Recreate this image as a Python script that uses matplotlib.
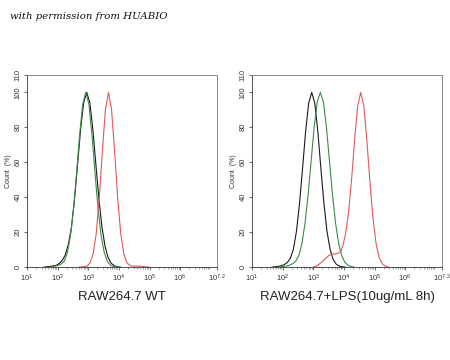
import numpy as np
import matplotlib
matplotlib.use("Agg")
import matplotlib.pyplot as plt
from matplotlib.ticker import FixedLocator, LogLocator, NullFormatter

# log10 fluorescence positions and count (%)
wt_black_log = [1.55, 1.65, 1.75, 1.85, 1.95, 2.05, 2.15, 2.25, 2.35, 2.45, 2.55, 2.65, 2.75,
                2.85, 2.95, 3.05, 3.15, 3.25, 3.35, 3.45, 3.55, 3.65, 3.75, 3.85, 3.95, 4.05]
wt_black_cnt = [0, 0.2, 0.4, 0.7, 1.0, 2.0, 3.8, 7.0, 13, 22.6, 38.6, 58.5, 78.8,
                94.2, 100, 94.2, 78.8, 58.5, 38.6, 22.6, 11.7, 5.4, 2.2, 0.8, 0.2, 0]
wt_green_log = [1.72, 1.82, 1.92, 2.02, 2.12, 2.22, 2.32, 2.42, 2.52, 2.62, 2.72, 2.82,
                2.92, 3.02, 3.12, 3.22, 3.32, 3.42, 3.52, 3.62, 3.72, 3.82, 3.92, 4.02]
wt_green_cnt = [0, 0.3, 0.6, 1.0, 1.8, 3.5, 8.5, 18.0, 33.4, 53.9, 76.0, 93.4,
                100, 93.4, 76.0, 53.9, 33.4, 18.0, 8.5, 3.5, 1.2, 0.4, 0.1, 0]
wt_red_log = [2.7, 2.86, 2.96, 3.06, 3.16, 3.26, 3.36, 3.46, 3.56, 3.66, 3.76, 3.86, 3.96,
              4.06, 4.16, 4.26, 4.4, 4.55, 4.7, 4.85, 5.0]
wt_red_cnt = [0, 0.3, 0.6, 2.4, 7.6, 19.2, 39.5, 66.2, 90.2, 100, 90.2, 66.2, 39.5,
              19.2, 7.6, 2.4, 0.6, 0.6, 0.5, 0.2, 0]

lps_black_log = [1.65, 1.75, 1.85, 1.95, 2.05, 2.15, 2.25, 2.35, 2.45, 2.55, 2.65, 2.75, 2.85,
                 2.95, 3.05, 3.15, 3.25, 3.35, 3.45, 3.55, 3.65, 3.75, 3.85, 3.95, 4.05]
lps_black_cnt = [0, 0.2, 0.4, 0.8, 1.4, 2.6, 5.0, 10.1, 20.3, 36.1, 56.3, 77.5, 93.8,
                 100, 93.8, 77.5, 56.3, 36.1, 20.3, 10.1, 4.4, 1.7, 0.6, 0.2, 0]
lps_green_log = [1.83, 1.93, 2.03, 2.13, 2.23, 2.33, 2.43, 2.53, 2.63, 2.73, 2.83, 2.93,
                 3.03, 3.13, 3.23, 3.33, 3.43, 3.53, 3.63, 3.73, 3.83, 3.93, 4.03, 4.13, 4.23, 4.33]
lps_green_cnt = [0, 0.2, 0.4, 0.6, 1.1, 2.0, 3.5, 6.6, 13.5, 24.9, 41.1, 60.6,
                 80.1, 94.6, 100, 94.6, 80.1, 60.6, 41.1, 24.9, 13.5, 6.6, 2.8, 1.1, 0.4, 0]
lps_red_log = [3.0, 3.1, 3.2, 3.3, 3.4, 3.5, 3.6, 3.7, 3.8, 3.9, 3.97, 4.05, 4.15, 4.25,
               4.35, 4.45, 4.55, 4.65, 4.75, 4.85, 4.95, 5.05, 5.15, 5.25, 5.35, 5.45]
lps_red_cnt = [0, 0.6, 1.8, 3.3, 5.0, 6.5, 7.5, 7.6, 7.8, 9.0, 12.5, 18.5, 31, 50,
               72.6, 92.3, 100, 92.3, 72.6, 48.7, 27.8, 13.5, 5.6, 2.0, 0.6, 0]

panels = [
    ("RAW264.7 WT", [(wt_black_log, wt_black_cnt, "#1a1a1a"),
                     (wt_green_log, wt_green_cnt, "#3d8a45"),
                     (wt_red_log, wt_red_cnt, "#e0585c")]),
    ("RAW264.7+LPS(10ug/mL 8h)", [(lps_black_log, lps_black_cnt, "#1a1a1a"),
                                  (lps_green_log, lps_green_cnt, "#3d8a45"),
                                  (lps_red_log, lps_red_cnt, "#e0585c")]),
]
xtick_pos = [1, 2, 3, 4, 5, 6, 7.2]
xtick_lab = ["$10^{1}$", "$10^{2}$", "$10^{3}$", "$10^{4}$", "$10^{5}$", "$10^{6}$", "$10^{7.2}$"]
ytick_pos = [0, 20, 40, 60, 80, 100, 110]

plt.rcParams["font.family"] = ["Liberation Sans", "DejaVu Sans"]
plt.rcParams["mathtext.fontset"] = "custom"
plt.rcParams["mathtext.rm"] = "Liberation Sans"
plt.rcParams["mathtext.it"] = "Liberation Sans"

fig = plt.figure(figsize=(4.5, 3.6), dpi=100)
fig.patch.set_facecolor("white")
lefts = [0.06, 0.56]

for left, (name, curves) in zip(lefts, panels):
    ax = fig.add_axes([left, 0.258, 0.422, 0.534])
    for lx, cnt, col in curves:
        ax.plot(np.power(10.0, lx), cnt, color=col, lw=0.8)
    ax.set_xscale("log")
    ax.set_xlim(10 ** 1, 10 ** 7.2)
    ax.set_ylim(0, 110)
    ax.xaxis.set_major_locator(FixedLocator([10.0 ** p for p in xtick_pos]))
    ax.set_xticklabels(xtick_lab)
    ax.xaxis.set_minor_locator(LogLocator(base=10, subs=np.arange(2, 10), numticks=20))
    ax.xaxis.set_minor_formatter(NullFormatter())
    ax.set_yticks(ytick_pos)
    ax.set_yticklabels([str(v) for v in ytick_pos], rotation=90, va="center")
    ax.tick_params(axis="both", which="major", labelsize=5.5, colors="#555555",
                   length=2.5, width=0.6, pad=1.5, labelcolor="#333333")
    ax.tick_params(axis="x", which="minor", length=1.5, width=0.4, colors="#555555")
    for s in ax.spines.values():
        s.set_color("#777777")
        s.set_linewidth(0.6)
    ax.spines["left"].set_color("#333333")
    ax.spines["bottom"].set_color("#333333")
    ax.set_ylabel("Count  (%)", fontsize=5, color="#333333", labelpad=2)
    ax.set_xlabel(name, fontsize=9.5, color="#222222", labelpad=5)

fig.text(0.022, 0.955, "with permission from HUABIO", fontsize=7.3, style="italic",
         family="DejaVu Serif", color="#111111", va="center")

fig.savefig("out.png", dpi=100)
